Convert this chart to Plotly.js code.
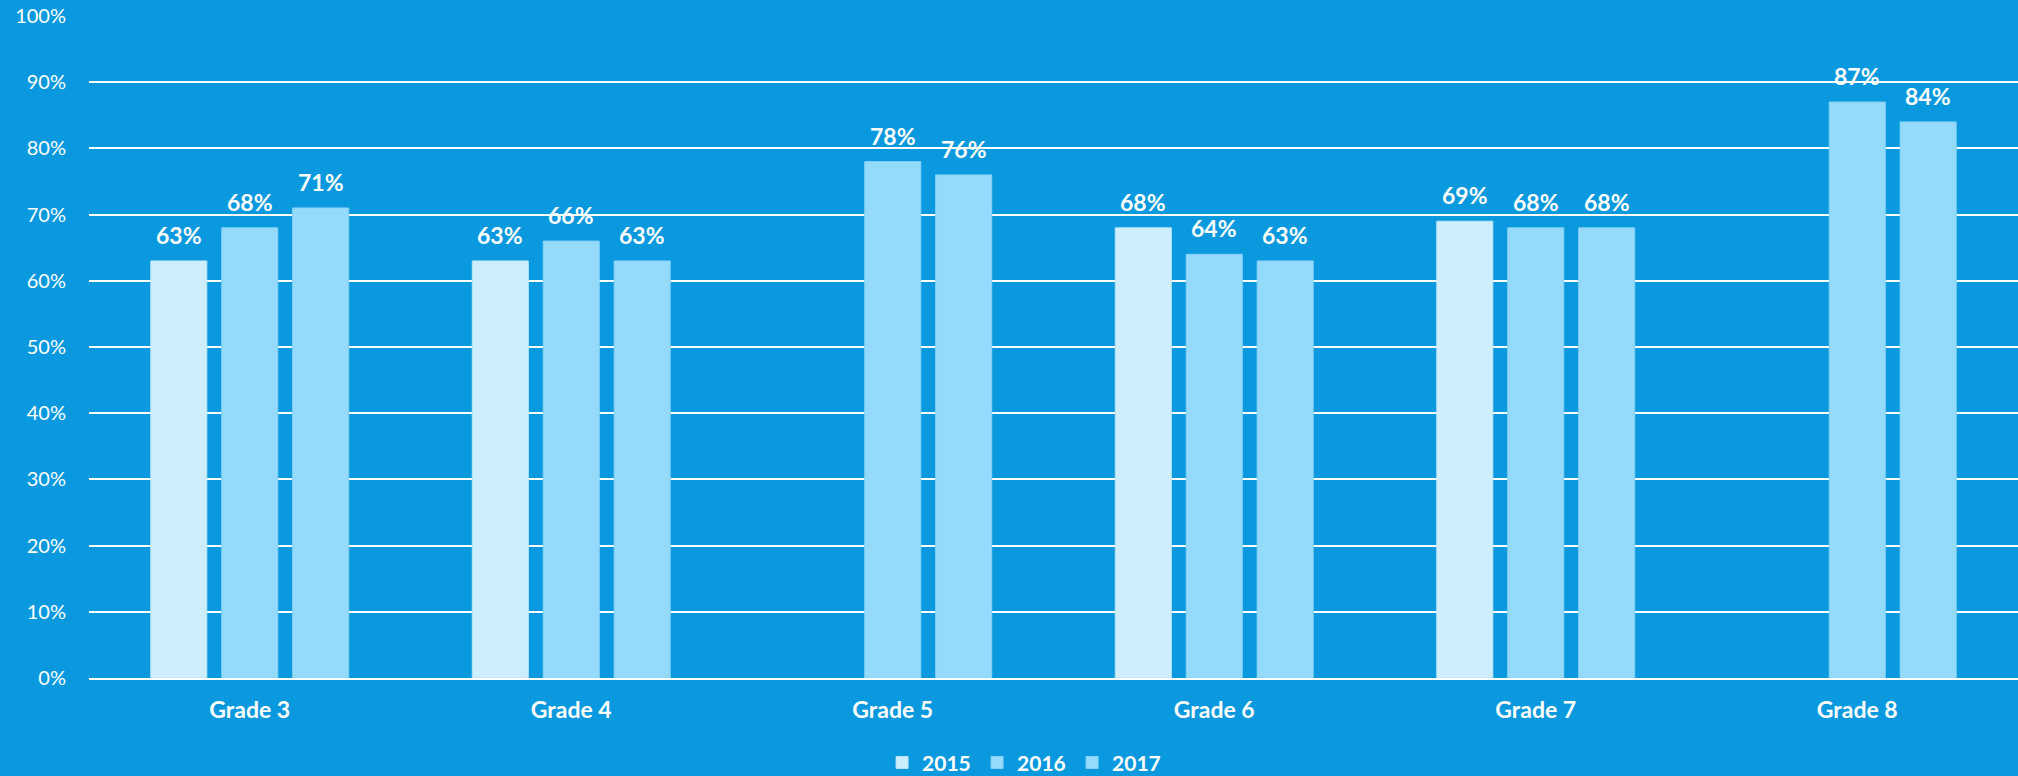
<!DOCTYPE html>
<html>
<head>
<meta charset="utf-8">
<script src="https://cdn.plot.ly/plotly-3.0.1.min.js"></script>
<style>
  html, body { margin: 0; padding: 0; background: #0A99DE; }
  #chart { width: 2018px; height: 776px; }
</style>
</head>
<body>
<div id="chart"></div>
<script>
const categories = ["Grade 3", "Grade 4", "Grade 5", "Grade 6", "Grade 7", "Grade 8"];
const seriesNames = ["2015", "2016", "2017"];
const values2015 = [63, 63, null, 68, 69, null];
const values2016 = [68, 66, 78, 64, 68, 87];
const values2017 = [71, 63, 76, 63, 68, 84];
const yTickVals = [0, 10, 20, 30, 40, 50, 60, 70, 80, 90, 100];

const allSeries = [values2015, values2016, values2017];
const colors = ["#CDEEFD", "#94DAFB", "#94DAFB"];
const lineColors = ["#B9E4F8", "#86D2F6", "#86D2F6"];
const FONT = "Lato, 'Open Sans', sans-serif";

const traces = allSeries.map((vals, i) => ({
  type: "bar",
  name: seriesNames[i],
  x: categories,
  y: vals,
  marker: { color: colors[i], line: { color: lineColors[i], width: 1 } },
  hoverinfo: "skip"
}));

// layout geometry for label placement
const W = 2018, H = 776;
const margin = { l: 89, r: 0, t: 16, b: 98, pad: 0 };
const bargap = 0.338;
const plotW = W - margin.l - margin.r;
const catW = plotW / categories.length;
const slotW = catW * (1 - bargap) / allSeries.length;

const annotations = [];
allSeries.forEach((vals, i) => {
  vals.forEach((v, j) => {
    if (v === null) return;
    annotations.push({
      x: categories[j], y: v, xref: "x", yref: "y",
      text: "<b>" + v + "%</b>",
      showarrow: false,
      yanchor: "bottom",
      yshift: 10,
      xshift: (i - (allSeries.length - 1) / 2) * slotW,
      font: { family: FONT, size: 23, color: "#FFFFFF" }
    });
  });
});

const layout = {
  width: W, height: H,
  margin: margin,
  paper_bgcolor: "#0A99DE",
  plot_bgcolor: "#0A99DE",
  barmode: "group",
  bargap: bargap,
  bargroupgap: 0.21,
  showlegend: true,
  legend: {
    orientation: "h",
    xref: "paper", x: 0.485, xanchor: "center",
    yref: "container", y: 0.017, yanchor: "middle",
    font: { family: FONT, size: 21, color: "#FFFFFF", weight: "bold" },
    itemwidth: 30,
    entrywidth: 50,
    tracegroupgap: 0,
    traceorder: "normal"
  },
  xaxis: {
    type: "category",
    tickfont: { family: FONT, size: 23, color: "#FFFFFF", weight: "bold" },
    showgrid: false,
    showline: true, linecolor: "#FFFFFF", linewidth: 2,
    ticks: "", ticklabelstandoff: 10,
    zeroline: false,
    automargin: false,
    fixedrange: true
  },
  yaxis: {
    range: [0, 100],
    tickvals: yTickVals,
    ticktext: yTickVals.map(v => v + "%"),
    tickfont: { family: FONT, size: 20, color: "#FFFFFF" },
    showgrid: true, gridcolor: "#FFFFFF", gridwidth: 2,
    zeroline: false,
    showline: false,
    ticks: "", ticklabelstandoff: 22,
    automargin: false,
    fixedrange: true
  },
  annotations: annotations
};

Plotly.newPlot("chart", traces, layout, { displayModeBar: false, staticPlot: true });
</script>
</body>
</html>
